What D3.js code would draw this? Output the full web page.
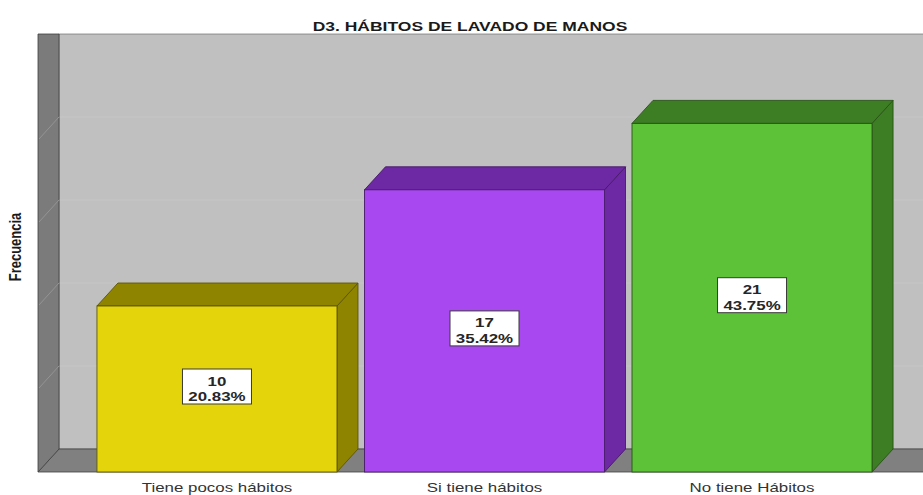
<!DOCTYPE html>
<html>
<head>
<meta charset="utf-8">
<script src="https://cdn.jsdelivr.net/npm/d3@7"></script>
<style>
  html, body { margin: 0; padding: 0; background: #ffffff; }
  svg { display: block; }
  text { font-family: "Liberation Sans", Arial, sans-serif; }
</style>
</head>
<body>
<svg id="chart" width="923" height="495"></svg>
<script>
// Hábitos de lavado de manos: frequency per category
const categories = ["Tiene pocos hábitos", "Si tiene hábitos", "No tiene Hábitos"];
const counts = [10, 17, 21];
const percents = ["20.83%", "35.42%", "43.75%"];
const gridValues = [5, 10, 15, 20];
const frontColors = ["#e3d40c", "#a848f0", "#5ec238"];
const depthColors = ["#8f8400", "#6d29a3", "#3d7e24"];

const W = 923, H = 495;
const svg = d3.select("#chart");

// 3D depth offset of the back plane
const DX = 21, DY = -23;
// horizontal stretch applied to text
const SX = 1.3;

const x = d3.scaleBand()
  .domain(categories)
  .range([38, 931])
  .paddingInner(0.1028)
  .paddingOuter(0.2204);

const y = d3.scaleLinear()
  .domain([0, 25])
  .range([472, 57]);

const x0 = x.range()[0], x1 = x.range()[1];
const y0 = y(0), yTop = y(25);

// back wall
svg.append("rect")
  .attr("x", x0 + DX).attr("y", yTop + DY)
  .attr("width", x1 - x0).attr("height", y0 - yTop)
  .attr("fill", "#c0c0c0")
  .attr("stroke", "#5a5a5a").attr("stroke-width", 0.6);

// gridlines on the back wall
svg.append("g").selectAll("line").data(gridValues).join("line")
  .attr("x1", x0 + DX).attr("x2", x1 + DX)
  .attr("y1", d => y(d) + DY).attr("y2", d => y(d) + DY)
  .attr("stroke", "#c6c6c6").attr("stroke-width", 1);

// floor
svg.append("path")
  .attr("d", `M${x0},${y0} L${x0 + DX},${y0 + DY} L${x1 + DX},${y0 + DY} L${x1},${y0} Z`)
  .attr("fill", "#808080")
  .attr("stroke", "#404040").attr("stroke-width", 0.8);

// left wall
svg.append("path")
  .attr("d", `M${x0},${yTop + DY} L${x0 + DX},${yTop + DY} L${x0 + DX},${y0 + DY} L${x0},${y0} Z`)
  .attr("fill", "#7b7b7b")
  .attr("stroke", "#404040").attr("stroke-width", 0.8);

// gridlines on the left wall
svg.append("g").selectAll("line").data(gridValues).join("line")
  .attr("x1", x0 + 1).attr("x2", x0 + DX)
  .attr("y1", d => y(d) - 1).attr("y2", d => y(d) + DY)
  .attr("stroke", "#949494").attr("stroke-width", 1);

// bars
const bars = svg.append("g").selectAll("g").data(categories).join("g");

bars.each(function(c, i) {
  const g = d3.select(this);
  const bx0 = x(c), bx1 = x(c) + x.bandwidth();
  const top = y(counts[i]);
  const edge = d3.color(depthColors[i]).darker(1.2).formatHex();

  // right side face
  g.append("path")
    .attr("d", `M${bx1},${top} L${bx1 + DX},${top + DY} L${bx1 + DX},${y0 + DY} L${bx1},${y0} Z`)
    .attr("fill", depthColors[i])
    .attr("stroke", edge).attr("stroke-width", 0.9).attr("stroke-linejoin", "round");

  // top face
  g.append("path")
    .attr("d", `M${bx0},${top} L${bx0 + DX},${top + DY} L${bx1 + DX},${top + DY} L${bx1},${top} Z`)
    .attr("fill", depthColors[i])
    .attr("stroke", edge).attr("stroke-width", 0.9).attr("stroke-linejoin", "round");

  // front face
  g.append("rect")
    .attr("x", bx0).attr("y", top)
    .attr("width", bx1 - bx0).attr("height", y0 - top)
    .attr("fill", frontColors[i])
    .attr("stroke", edge).attr("stroke-width", 0.9);
});

// value labels
const labels = svg.append("g").selectAll("g").data(categories).join("g")
  .attr("transform", (c, i) => {
    const mid = (y(counts[i]) + y0) / 2;
    return `translate(${x(c) + x.bandwidth() / 2},${mid})`;
  });

labels.append("rect")
  .attr("x", -34.5).attr("y", -20)
  .attr("width", 69).attr("height", 35)
  .attr("fill", "#ffffff")
  .attr("stroke", "#3a3a3a").attr("stroke-width", 1);

const labelText = labels.append("g").attr("transform", `scale(${SX},1)`);
labelText.append("text")
  .attr("y", -3.5)
  .attr("text-anchor", "middle")
  .attr("font-size", 13).attr("font-weight", "bold").attr("fill", "#262626")
  .text((c, i) => counts[i]);
labelText.append("text")
  .attr("y", 12.5)
  .attr("text-anchor", "middle")
  .attr("font-size", 13).attr("font-weight", "bold").attr("fill", "#262626")
  .text((c, i) => percents[i]);

// category axis labels
svg.append("g").selectAll("g").data(categories).join("g")
  .attr("transform", c => `translate(${x(c) + x.bandwidth() / 2},492) scale(${SX},1)`)
  .append("text")
  .attr("text-anchor", "middle")
  .attr("font-size", 13).attr("fill", "#333333")
  .text(c => c);

// title
svg.append("g")
  .attr("transform", `translate(470,31) scale(1.4,1)`)
  .append("text")
  .attr("text-anchor", "middle")
  .attr("font-size", 12.5).attr("font-weight", "bold").attr("fill", "#1a1a1a")
  .text("D3. HÁBITOS DE LAVADO DE MANOS");

// y-axis title
svg.append("g")
  .attr("transform", `translate(21,247) scale(${SX},1) rotate(-90)`)
  .append("text")
  .attr("text-anchor", "middle")
  .attr("font-size", 13).attr("font-weight", "bold").attr("fill", "#1a1a1a")
  .text("Frecuencia");
</script>
</body>
</html>
